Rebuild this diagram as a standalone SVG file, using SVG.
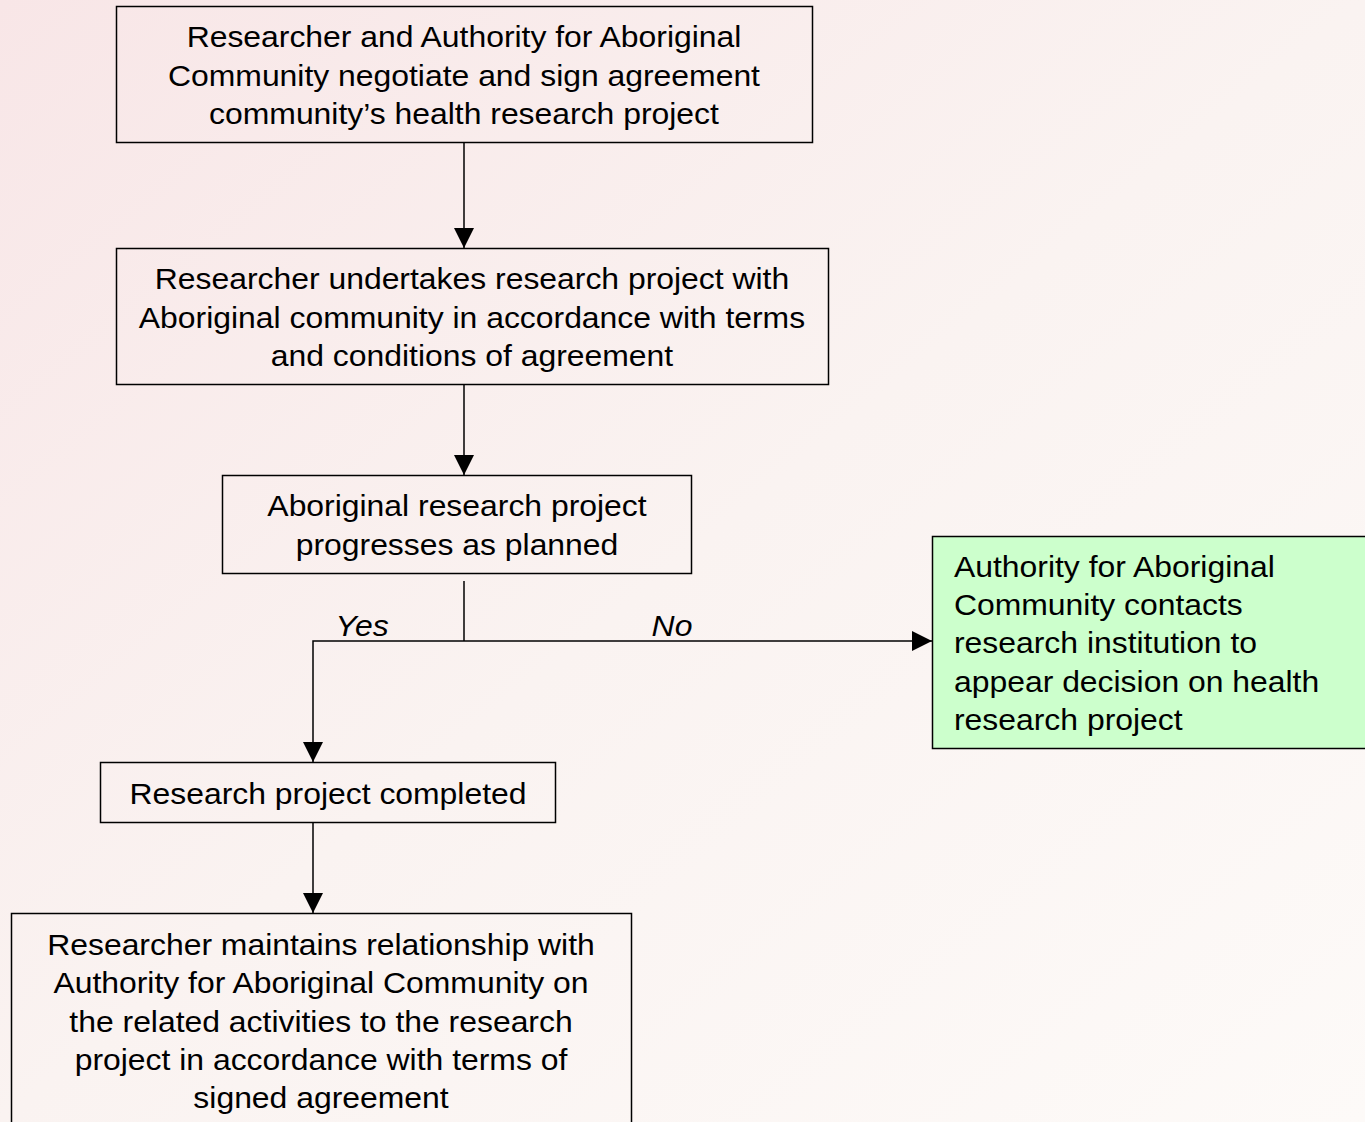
<svg xmlns="http://www.w3.org/2000/svg" width="1365" height="1122" viewBox="0 0 1365 1122">
<style>
.box{fill:none;stroke:#000;stroke-width:1.5}
.green{fill:#ccffcc;stroke:#000;stroke-width:1.5}
.t{font-family:"Liberation Sans",Arial,sans-serif;font-size:29px;fill:#000;text-anchor:middle}
.tl{font-family:"Liberation Sans",Arial,sans-serif;font-size:29px;fill:#000}
.lbl{font-family:"Liberation Sans",Arial,sans-serif;font-size:29px;font-style:italic;fill:#000;text-anchor:middle}
.c{fill:none;stroke:#000;stroke-width:1.5}
</style>
<defs>
<linearGradient id="bg" x1="0" y1="0" x2="1" y2="1">
<stop offset="0" stop-color="#f8e6e7"/>
<stop offset="0.5" stop-color="#faf3f1"/>
<stop offset="1" stop-color="#fdfaf8"/>
</linearGradient>
<marker id="ah" markerWidth="20" markerHeight="20" refX="20" refY="10" orient="auto" markerUnits="userSpaceOnUse">
<path d="M0,0 L20,10 L0,20 Z" fill="#000"/>
</marker>
</defs>
<rect width="1365" height="1122" fill="url(#bg)"/>
<g id="connectors">
<line class="c" x1="464" y1="142" x2="464" y2="248" marker-end="url(#ah)"/>
<line class="c" x1="464" y1="384" x2="464" y2="475" marker-end="url(#ah)"/>
<line class="c" x1="464" y1="581" x2="464" y2="641"/>
<polyline class="c" points="464,641 313,641 313,762" marker-end="url(#ah)"/>
<line class="c" x1="464" y1="641" x2="932" y2="641" marker-end="url(#ah)"/>
<line class="c" x1="313" y1="822" x2="313" y2="913" marker-end="url(#ah)"/>
<g transform="matrix(1.1 0 0 1 -36.2 0)"><text class="lbl" x="362" y="636">Yes</text></g>
<g transform="matrix(1.1 0 0 1 -67.2 0)"><text class="lbl" x="672" y="636">No</text></g>
</g>
<g id="n1">
<rect class="box" x="116.5" y="6.5" width="696" height="136"/>
<g transform="matrix(1.1 0 0 1 -46.4 0)">
<text class="t" x="464" y="47">Researcher and Authority for Aboriginal</text>
<text class="t" x="464" y="86">Community negotiate and sign agreement</text>
<text class="t" x="464" y="124">community’s health research project</text>
</g>
</g>
<g id="n2">
<rect class="box" x="116.5" y="248.5" width="712" height="136"/>
<g transform="matrix(1.1 0 0 1 -47.2 0)">
<text class="t" x="472" y="289">Researcher undertakes research project with</text>
<text class="t" x="472" y="328">Aboriginal community in accordance with terms</text>
<text class="t" x="472" y="366">and conditions of agreement</text>
</g>
</g>
<g id="n3">
<rect class="box" x="222.5" y="475.5" width="469" height="98"/>
<g transform="matrix(1.1 0 0 1 -45.7 0)">
<text class="t" x="457" y="516">Aboriginal research project</text>
<text class="t" x="457" y="555">progresses as planned</text>
</g>
</g>
<g id="n4">
<rect class="box" x="100.5" y="762.5" width="455" height="60"/>
<g transform="matrix(1.1 0 0 1 -32.8 0)">
<text class="t" x="328" y="804">Research project completed</text>
</g>
</g>
<g id="n5">
<rect class="box" x="11.5" y="913.5" width="620" height="220"/>
<g transform="matrix(1.1 0 0 1 -32.1 0)">
<text class="t" x="321" y="955">Researcher maintains relationship with</text>
<text class="t" x="321" y="993">Authority for Aboriginal Community on</text>
<text class="t" x="321" y="1032">the related activities to the research</text>
<text class="t" x="321" y="1070">project in accordance with terms of</text>
<text class="t" x="321" y="1108">signed agreement</text>
</g>
</g>
<g id="n6">
<rect class="green" x="932.5" y="536.5" width="450" height="212"/>
<g transform="matrix(1.1 0 0 1 -95.4 0)">
<text class="tl" x="954" y="577">Authority for Aboriginal</text>
<text class="tl" x="954" y="615">Community contacts</text>
<text class="tl" x="954" y="653">research institution to</text>
<text class="tl" x="954" y="692">appear decision on health</text>
<text class="tl" x="954" y="730">research project</text>
</g>
</g>
</svg>
